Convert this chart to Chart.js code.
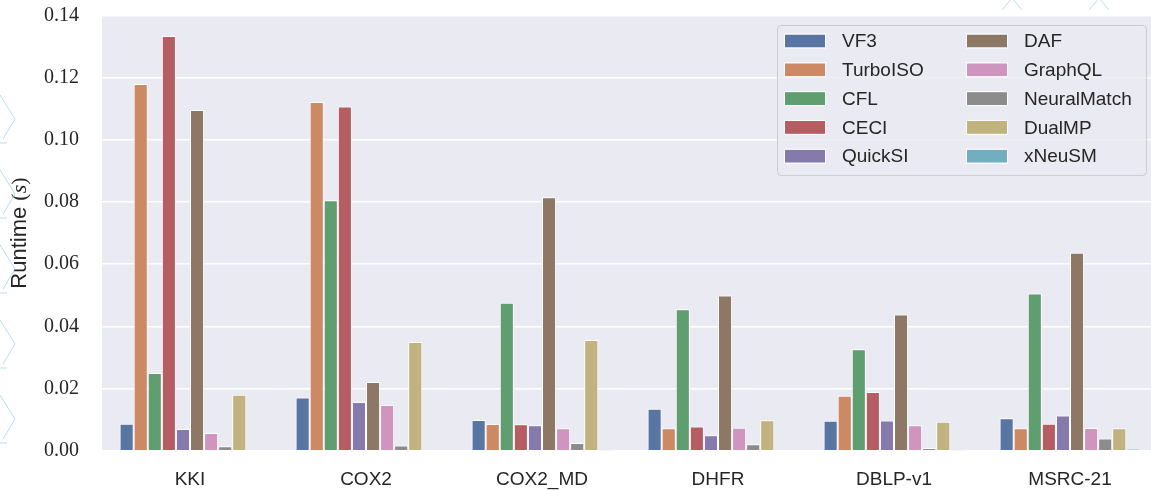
<!DOCTYPE html>
<html>
<head>
<meta charset="utf-8">
<script src="https://cdn.jsdelivr.net/npm/chart.js@4"></script>
<style>
  html, body { margin: 0; padding: 0; background: #ffffff; overflow: hidden; width: 1151px; height: 490px; }
  #wrap { position: relative; width: 1158px; height: 490px; }
  canvas { display: block; }
</style>
</head>
<body>
<div id="wrap"><canvas id="c" width="1158" height="490"></canvas></div>
<script>
// ---- data ----
const categories = ['KKI', 'COX2', 'COX2_MD', 'DHFR', 'DBLP-v1', 'MSRC-21'];
const VF3         = [0.0087, 0.0171, 0.0099, 0.0135, 0.0096, 0.0104];
const TurboISO    = [0.1180, 0.1122, 0.0086, 0.0072, 0.0177, 0.0072];
const CFL         = [0.0250, 0.0806, 0.0476, 0.0455, 0.0326, 0.0506];
const CECI        = [0.1334, 0.1107, 0.0085, 0.0078, 0.0189, 0.0087];
const QuickSI     = [0.0070, 0.0157, 0.0082, 0.0050, 0.0097, 0.0113];
const DAF         = [0.1096, 0.0221, 0.0815, 0.0499, 0.0438, 0.0637];
const GraphQL     = [0.0057, 0.0147, 0.0072, 0.0074, 0.0082, 0.0073];
const NeuralMatch = [0.0014, 0.0017, 0.0025, 0.0021, 0.0009, 0.0039];
const DualMP      = [0.0180, 0.0350, 0.0356, 0.0098, 0.0093, 0.0072];
const xNeuSM      = [0.0002, 0.0002, 0.0001, 0.0002, 0.0001, 0.0005];
const yTicks      = [0.00, 0.02, 0.04, 0.06, 0.08, 0.10, 0.12, 0.14];

const seriesNames = ['VF3', 'TurboISO', 'CFL', 'CECI', 'QuickSI', 'DAF', 'GraphQL', 'NeuralMatch', 'DualMP', 'xNeuSM'];
const seriesData  = [VF3, TurboISO, CFL, CECI, QuickSI, DAF, GraphQL, NeuralMatch, DualMP, xNeuSM];
const colors = ['#5975a4', '#cc8963', '#5f9e6e', '#b55d60', '#857aab', '#8d7866', '#d095bf', '#8c8c8c', '#c1b37f', '#71aec0'];

const TEXT = '#262626';
const SANS = '"Liberation Sans", Arial, Helvetica, sans-serif';
const SERIF = '"Liberation Serif", "Times New Roman", serif';

const datasets = seriesNames.map((n, i) => ({
  label: n,
  data: seriesData[i],
  backgroundColor: colors[i],
  borderColor: '#ffffff',
  borderWidth: 1,
  categoryPercentage: 0.8,
  barPercentage: 1.0
}));

// background of plot area
const bgPlugin = {
  id: 'bg',
  beforeDraw(chart) {
    const { ctx, chartArea: a } = chart;
    ctx.save();
    ctx.fillStyle = '#eaeaf2';
    ctx.fillRect(a.left, a.top, a.right - a.left, a.bottom - a.top);
    ctx.restore();
  }
};

// faint decorative strokes seen along the picture's edges
const decoPlugin = {
  id: 'deco',
  afterDraw(chart) {
    const ctx = chart.ctx;
    ctx.save();
    ctx.strokeStyle = 'rgba(120,195,220,0.55)';
    ctx.lineWidth = 1;
    [143, 218, 293, 368, 443].forEach(y => {
      ctx.beginPath();
      ctx.moveTo(0, y); ctx.lineTo(7, y);
      ctx.stroke();
      ctx.beginPath();
      ctx.moveTo(0, y - 48); ctx.lineTo(15, y - 24); ctx.lineTo(3, y - 4);
      ctx.stroke();
    });
    [[1012, 1002, 1022], [1099, 1089, 1109]].forEach(([ax, l, r]) => {
      ctx.beginPath();
      ctx.moveTo(l, 10); ctx.lineTo(ax, -2); ctx.lineTo(r, 10);
      ctx.stroke();
    });
    ctx.restore();
  }
};

// y axis title with mixed fonts: "Runtime (s)" (s in math italic)
const yTitlePlugin = {
  id: 'ytitle',
  afterDraw(chart) {
    const ctx = chart.ctx;
    const a = chart.chartArea;
    const parts = [
      { t: 'Runtime ', f: '22px ' + SANS },
      { t: '(', f: '22px ' + SERIF },
      { t: 's', f: 'italic 22px ' + SERIF },
      { t: ')', f: '22px ' + SERIF }
    ];
    ctx.save();
    let total = 0;
    parts.forEach(p => { ctx.font = p.f; p.w = ctx.measureText(p.t).width; total += p.w; });
    ctx.translate(19, (a.top + a.bottom) / 2);
    ctx.rotate(-Math.PI / 2);
    ctx.fillStyle = TEXT;
    ctx.textBaseline = 'middle';
    ctx.textAlign = 'left';
    let x = -total / 2;
    parts.forEach(p => { ctx.font = p.f; ctx.fillText(p.t, x, 1); x += p.w; });
    ctx.restore();
  }
};

// legend inside the plot, two columns, column-major order
const legendPlugin = {
  id: 'innerLegend',
  afterDraw(chart) {
    const ctx = chart.ctx;
    const items = chart.data.datasets;
    const box = { x: 777.5, y: 25.5, w: 369, h: 150 };
    ctx.save();
    ctx.beginPath();
    ctx.roundRect(box.x, box.y, box.w, box.h, 4);
    ctx.fillStyle = 'rgba(234,234,242,0.85)';
    ctx.fill();
    ctx.strokeStyle = '#cccccc';
    ctx.lineWidth = 1;
    ctx.stroke();
    const rows = 5;
    const colX = [785, 967];
    const textX = [842, 1024];
    ctx.font = '19px ' + SANS;
    ctx.textBaseline = 'middle';
    ctx.textAlign = 'left';
    items.forEach((ds, i) => {
      const col = Math.floor(i / rows), row = i % rows;
      const cy = 41 + row * 28.8;
      ctx.fillStyle = ds.backgroundColor;
      ctx.fillRect(colX[col], cy - 6.5, 40, 13);
      ctx.strokeStyle = '#ffffff';
      ctx.strokeRect(colX[col] - 0.5, cy - 7, 41, 14);
      ctx.fillStyle = TEXT;
      ctx.fillText(ds.label, textX[col], cy + 1);
    });
    ctx.restore();
  }
};

new Chart(document.getElementById('c'), {
  type: 'bar',
  data: { labels: categories, datasets },
  options: {
    responsive: false,
    animation: false,
    devicePixelRatio: 1,
    layout: { padding: { top: 15.5, left: 0, right: 0, bottom: 0 } },
    plugins: {
      legend: { display: false },
      tooltip: { enabled: false },
      title: { display: false }
    },
    scales: {
      x: {
        grid: { display: false, drawTicks: false },
        border: { display: false },
        ticks: { color: TEXT, font: { family: SANS, size: 19 }, padding: 18, maxRotation: 0 },
        afterFit(s) { s.height = 39.3; s.paddingLeft = 0; s.paddingRight = 0; }
      },
      y: {
        min: 0,
        max: 0.14,
        afterBuildTicks(s) { s.ticks = yTicks.map(v => ({ value: v })); },
        grid: { color: '#ffffff', lineWidth: 1.5, drawTicks: false },
        border: { display: false },
        ticks: {
          color: TEXT,
          font: { family: SERIF, size: 20 },
          padding: 23,
          callback: v => Number(v).toFixed(2)
        },
        afterFit(s) { s.width = 102; s.paddingTop = 0; s.paddingBottom = 0; }
      }
    }
  },
  plugins: [bgPlugin, yTitlePlugin, legendPlugin, decoPlugin]
});
</script>
</body>
</html>
